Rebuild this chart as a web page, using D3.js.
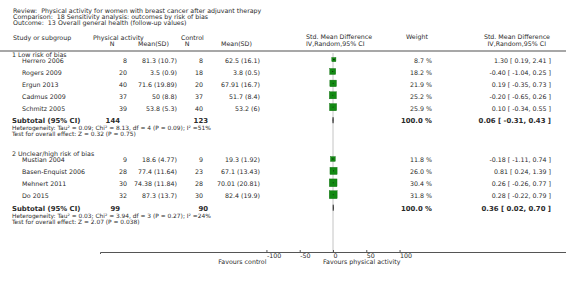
<!DOCTYPE html>
<html>
<head>
<meta charset="utf-8">
<script src="https://cdn.jsdelivr.net/npm/d3@7"></script>
<style>
  body { margin: 0; background: #fff; }
  text { font-family: "DejaVu Sans", Verdana, sans-serif; fill: #2a2a2a; white-space: pre; }
</style>
</head>
<body>
<div id="chart"></div>
<script>
// header lines
const titleLines = [
  "Review:  Physical activity for women with breast cancer after adjuvant therapy",
  "Comparison:  18 Sensitivity analysis: outcomes by risk of bias",
  "Outcome:  13 Overall general health (follow-up values)"
];

const groupNames = ["1 Low risk of bias", "2 Unclear/high risk of bias"];

const studyNames = ["Herrero 2006", "Rogers 2009", "Ergun 2013", "Cadmus 2009", "Schmitz 2005",
                    "Mustian 2004", "Basen-Enquist 2006", "Mehnert 2011", "Do 2015"];
const studyGroup = [0, 0, 0, 0, 0, 1, 1, 1, 1];
const paN    = [8, 20, 40, 37, 39, 9, 28, 30, 32];
const paMean = [81.3, 3.5, 71.6, 50, 53.8, 18.6, 77.4, 74.38, 87.3];
const paSD   = [10.7, 0.9, 19.89, 8.8, 5.3, 4.77, 11.64, 11.84, 13.7];
const ctN    = [8, 18, 20, 37, 40, 9, 23, 28, 30];
const ctMean = [62.5, 3.8, 67.91, 51.7, 53.2, 19.3, 67.1, 70.01, 82.4];
const ctSD   = [16.1, 0.5, 16.7, 8.4, 6, 1.92, 13.43, 20.81, 19.9];
const weights = [8.7, 18.2, 21.9, 25.2, 25.9, 11.8, 26.0, 30.4, 31.8];
const smd    = [1.30, -0.40, 0.19, -0.20, 0.10, -0.18, 0.81, 0.26, 0.28];
const ciLow  = [0.19, -1.04, -0.35, -0.65, -0.34, -1.11, 0.24, -0.26, -0.22];
const ciHigh = [2.41, 0.25, 0.73, 0.26, 0.55, 0.74, 1.39, 0.77, 0.79];

const subPaN   = [144, 99];
const subCtN   = [123, 90];
const subWeight = [100.0, 100.0];
const subSmd   = [0.06, 0.36];
const subLow   = [-0.31, 0.02];
const subHigh  = [0.43, 0.70];
const heterogeneity = [
  "Heterogeneity: Tau² = 0.09; Chi² = 8.13, df = 4 (P = 0.09); I² =51%",
  "Heterogeneity: Tau² = 0.03; Chi² = 3.94, df = 3 (P = 0.27); I² =24%"
];
const overallEffect = [
  "Test for overall effect: Z = 0.32 (P = 0.75)",
  "Test for overall effect: Z = 2.07 (P = 0.038)"
];

const tickValues = [-100, -50, 0, 50, 100];
const favourLeft = "Favours control";
const favourRight = "Favours physical activity";

const width = 566, height = 281;
const fs = 6.3, fsBold = 6.9, fsSmall = 5.9;

const svg = d3.select("#chart").append("svg")
  .attr("width", width).attr("height", height);

// columns
const col = { left: 12, study: 22, paN: 127, paMean: 177, ctN: 203, ctMean: 260, weight: 432, effect: 551,
              subPaN: 120, subCtN: 208 };

const x = d3.scaleLinear().domain([-350, 350]).range([100, 566]);
const sq = d3.scaleSqrt().domain([0, 100]).range([0, 14]);
const f2 = v => v.toFixed(2);
const effText = (e, l, h) => `${f2(e)} [ ${f2(l)}, ${f2(h)} ]`;

// titles
titleLines.forEach((t, i) => {
  svg.append("text").attr("x", 13).attr("y", 12.5 + i * 6.2)
    .style("font-size", fs + "px").text(t);
});

// column headers
const hdr = [
  ["Study or subgroup", 13, 40, "start"],
  ["Physical activity", 93, 40, "start"],
  ["N", 112, 46, "middle"],
  ["Mean(SD)", 138, 46, "start"],
  ["Control", 181, 40, "start"],
  ["N", 187, 46, "middle"],
  ["Mean(SD)", 221, 46, "start"],
  ["Std. Mean Difference", 306, 39, "start"],
  ["IV,Random,95% CI", 306, 45.5, "start"],
  ["Weight", 406, 39, "start"],
  ["Std. Mean Difference", 550, 39, "end"],
  ["IV,Random,95% CI", 546, 45.5, "end"]
];
hdr.forEach(([t, hx, hy, a]) => {
  svg.append("text").attr("x", hx).attr("y", hy).attr("text-anchor", a)
    .style("font-size", fs + "px").text(t);
});

svg.append("line").attr("x1", 0).attr("x2", width).attr("y1", 51).attr("y2", 51)
  .attr("stroke", "#8a8a8a").attr("stroke-width", 1.6);

// zero line
const axisY = 252;
svg.append("line").attr("x1", x(0)).attr("x2", x(0)).attr("y1", 53).attr("y2", axisY)
  .attr("stroke", "#c4c4c4").attr("stroke-width", 1);

// vertical layout
let cy = 54.3;
groupNames.forEach((g, gi) => {
  svg.append("text").attr("x", col.left).attr("y", cy + 2.4)
    .style("font-size", fs + "px").text(g);
  cy += 6.3;
  const idx = studyGroup.map((v, i) => v === gi ? i : -1).filter(i => i >= 0);
  idx.forEach((i, k) => {
    const ry = cy + k * 11.9;
    const ty = ry + 2.4;
    svg.append("text").attr("x", col.study).attr("y", ty).style("font-size", fs + "px").text(studyNames[i]);
    svg.append("text").attr("x", col.paN).attr("y", ty).attr("text-anchor", "end").style("font-size", fs + "px").text(paN[i]);
    svg.append("text").attr("x", col.paMean).attr("y", ty).attr("text-anchor", "end").style("font-size", fs + "px").text(`${paMean[i]} (${paSD[i]})`);
    svg.append("text").attr("x", col.ctN).attr("y", ty).attr("text-anchor", "end").style("font-size", fs + "px").text(ctN[i]);
    svg.append("text").attr("x", col.ctMean).attr("y", ty).attr("text-anchor", "end").style("font-size", fs + "px").text(`${ctMean[i]} (${ctSD[i]})`);
    svg.append("text").attr("x", col.weight).attr("y", ty).attr("text-anchor", "end").style("font-size", fs + "px").text(`${weights[i].toFixed(1)} %`);
    svg.append("text").attr("x", col.effect).attr("y", ty).attr("text-anchor", "end").style("font-size", fs + "px").text(effText(smd[i], ciLow[i], ciHigh[i]));
    // square + CI
    const s = sq(weights[i]);
    const my = ry - 1;
    svg.append("rect").attr("x", x(smd[i]) - s / 2).attr("y", my - s / 2)
      .attr("width", s).attr("height", s).attr("fill", "#138a13").attr("stroke", "#0b6b0b").attr("stroke-width", 0.4);
    svg.append("line").attr("x1", x(ciLow[i])).attr("x2", x(ciHigh[i])).attr("y1", my).attr("y2", my)
      .attr("stroke", "#111").attr("stroke-width", 1);
  });
  cy += (idx.length - 1) * 11.9 + 13;
  // subtotal
  const sy = cy + 2.0;
  svg.append("text").attr("x", col.left).attr("y", sy).style("font-size", fsBold + "px").style("font-weight", "bold").text("Subtotal (95% CI)");
  svg.append("text").attr("x", col.subPaN).attr("y", sy).attr("text-anchor", "end").style("font-size", fsBold + "px").style("font-weight", "bold").text(subPaN[gi]);
  svg.append("text").attr("x", col.subCtN).attr("y", sy).attr("text-anchor", "end").style("font-size", fsBold + "px").style("font-weight", "bold").text(subCtN[gi]);
  svg.append("text").attr("x", col.weight).attr("y", sy).attr("text-anchor", "end").style("font-size", fsBold + "px").style("font-weight", "bold").text(`${subWeight[gi].toFixed(1)} %`);
  svg.append("text").attr("x", col.effect).attr("y", sy).attr("text-anchor", "end").style("font-size", fsBold + "px").style("font-weight", "bold").text(effText(subSmd[gi], subLow[gi], subHigh[gi]));
  const dy = cy - 1;
  svg.append("path")
    .attr("d", `M${x(subLow[gi])},${dy} L${x(subSmd[gi])},${dy - 3} L${x(subHigh[gi])},${dy} L${x(subSmd[gi])},${dy + 3} Z`)
    .attr("fill", "#111").attr("stroke", "#111").attr("stroke-width", 0.5);
  cy += 6;
  svg.append("text").attr("x", col.left).attr("y", cy + 3.0).style("font-size", fsSmall + "px").text(heterogeneity[gi]);
  cy += 5.5;
  svg.append("text").attr("x", col.left).attr("y", cy + 3.4).style("font-size", fsSmall + "px").text(overallEffect[gi]);
  cy += 21;
});

// axis
const axis = d3.axisBottom(x).tickValues(tickValues).tickSize(2).tickFormat(d => d);
const ag = svg.append("g").attr("transform", `translate(0,${axisY})`).call(axis);
ag.select(".domain").attr("stroke", "#555").attr("stroke-width", 1);
ag.selectAll(".tick line").attr("stroke", "#555").attr("y1", -2).attr("y2", 0);
ag.selectAll(".tick text")
  .attr("text-anchor", "start").attr("x", 0).attr("y", 2).attr("dy", "0.71em")
  .style("font-family", "DejaVu Sans, Verdana, sans-serif")
  .style("font-size", fs + "px").attr("fill", "#2a2a2a");

svg.append("text").attr("x", x(-100)).attr("y", 264).attr("text-anchor", "end")
  .style("font-size", fs + "px").text(favourLeft);
svg.append("text").attr("x", x(-15)).attr("y", 264)
  .style("font-size", fs + "px").text(favourRight);
</script>
</body>
</html>
